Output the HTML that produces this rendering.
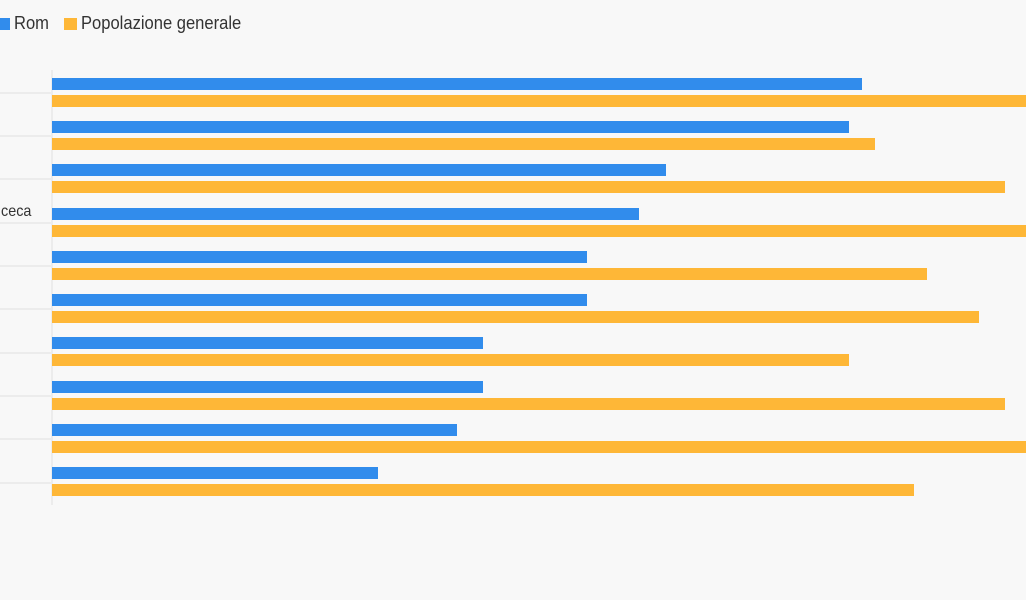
<!DOCTYPE html>
<html><head><meta charset="utf-8"><style>
html,body{margin:0;padding:0;width:1026px;height:600px;overflow:hidden;background:#f8f8f8;font-family:"Liberation Sans",sans-serif;}
.a{position:absolute;}
.b{position:absolute;left:52px;height:12px;background:#318cec;}
.o{position:absolute;left:52px;height:12px;background:#feb737;}
.g{position:absolute;left:0;width:52px;height:2px;background:#ececec;}
.t{position:absolute;font-size:18px;color:#333;transform:scaleX(0.92);transform-origin:left;white-space:nowrap;}
</style></head><body>
<div class="a" style="left:0;top:18px;width:10px;height:12px;background:#318cec"></div>
<div class="t" style="left:14px;top:13px">Rom</div>
<div class="a" style="left:64px;top:18px;width:13px;height:12px;background:#feb737"></div>
<div class="t" style="left:81px;top:13px">Popolazione generale</div>
<div class="a" style="left:51px;top:70px;width:2px;height:435px;background:#ececec"></div>
<div class="t" style="left:1px;top:203px;font-size:16px;transform:scaleX(0.9)">ceca</div>
<div class="g" style="top:92px"></div><div class="g" style="top:135px"></div><div class="g" style="top:178px"></div><div class="g" style="top:222px"></div><div class="g" style="top:265px"></div><div class="g" style="top:308px"></div><div class="g" style="top:352px"></div><div class="g" style="top:395px"></div><div class="g" style="top:438px"></div><div class="g" style="top:482px"></div>
<div class="b" style="top:78px;width:810px"></div><div class="o" style="top:95px;width:974px"></div>
<div class="b" style="top:121px;width:797px"></div><div class="o" style="top:138px;width:823px"></div>
<div class="b" style="top:164px;width:614px"></div><div class="o" style="top:181px;width:953px"></div>
<div class="b" style="top:208px;width:587px"></div><div class="o" style="top:225px;width:974px"></div>
<div class="b" style="top:251px;width:535px"></div><div class="o" style="top:268px;width:875px"></div>
<div class="b" style="top:294px;width:535px"></div><div class="o" style="top:311px;width:927px"></div>
<div class="b" style="top:337px;width:431px"></div><div class="o" style="top:354px;width:797px"></div>
<div class="b" style="top:381px;width:431px"></div><div class="o" style="top:398px;width:953px"></div>
<div class="b" style="top:424px;width:405px"></div><div class="o" style="top:441px;width:974px"></div>
<div class="b" style="top:467px;width:326px"></div><div class="o" style="top:484px;width:862px"></div>
</body></html>
